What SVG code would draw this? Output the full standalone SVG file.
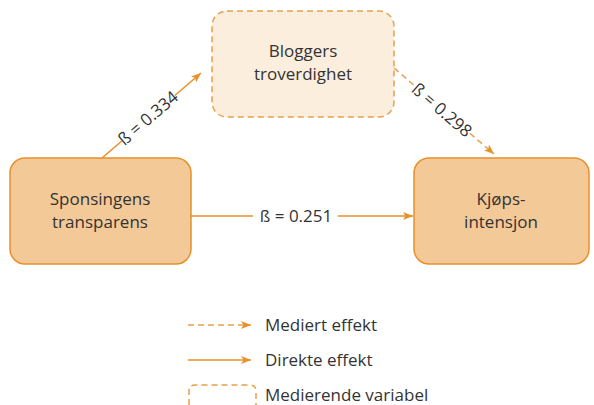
<svg xmlns="http://www.w3.org/2000/svg" width="594" height="405" viewBox="0 0 594 405">
<defs>
<marker id="ah" viewBox="0 0 10 8" refX="10" refY="4" markerWidth="10" markerHeight="8" markerUnits="userSpaceOnUse" orient="auto">
<path d="M0,0 L10,4 L0,8 L2.5,4 z" fill="#e8902a"/>
</marker>
<style>
.box{fill:#f3c998;stroke:#e8902a;stroke-width:1.5}
.med{fill:#fbeedd;stroke:#e8a04a;stroke-width:1.5;stroke-dasharray:6 4}
.t{font-family:"Open Sans","Liberation Sans",sans-serif;font-size:17px;fill:#333;text-anchor:middle}
.lt{font-family:"Open Sans","Liberation Sans",sans-serif;font-size:17px;fill:#333}
.c{stroke:#e8902a;stroke-width:1.5;fill:none}
.d{stroke:#e8a04a;stroke-width:1.5;fill:none;stroke-dasharray:6 4}
</style>
</defs>
<rect width="594" height="405" fill="#fff"/>
<g id="connectors">
<line class="c" x1="102" y1="158" x2="201" y2="73" marker-end="url(#ah)"/>
<line class="d" x1="394" y1="68" x2="494" y2="154" marker-end="url(#ah)"/>
<line class="c" x1="191" y1="216" x2="413" y2="216" marker-end="url(#ah)"/>
<rect x="113" y="107" width="70" height="22" fill="#fff" transform="rotate(-40.6 148 118)"/>
<text class="t" x="148" y="124" transform="rotate(-40.6 148 118)">ß = 0.334</text>
<rect x="407" y="99" width="70" height="22" fill="#fff" transform="rotate(40.7 442 110)"/>
<text class="t" x="442" y="116" transform="rotate(40.7 442 110)">ß = 0.298</text>
<rect x="253" y="204" width="85" height="24" fill="#fff"/>
<text class="t" x="296" y="222">ß = 0.251</text>
</g>
<g id="sponsingens">
<rect class="box" x="10" y="158" width="181" height="106" rx="15"/>
<text class="t" x="100" y="205">Sponsingens</text>
<text class="t" x="100" y="228">transparens</text>
</g>
<g id="bloggers">
<rect class="med" x="212" y="11" width="182" height="106" rx="15"/>
<text class="t" x="303" y="57">Bloggers</text>
<text class="t" x="303" y="80">troverdighet</text>
</g>
<g id="kjops">
<rect class="box" x="414" y="158" width="175" height="106" rx="15"/>
<text class="t" x="501" y="205">Kjøps-</text>
<text class="t" x="501" y="228">intensjon</text>
</g>
<g id="legend">
<line class="d" x1="188" y1="325" x2="251" y2="325" marker-end="url(#ah)"/>
<text class="lt" x="265" y="331">Mediert effekt</text>
<line class="c" x1="188" y1="360" x2="251" y2="360" marker-end="url(#ah)"/>
<text class="lt" x="265" y="366">Direkte effekt</text>
<path class="d" d="M189,405 V391 Q189,385 195,385 H250 Q256,385 256,391 V405"/>
<text class="lt" x="265" y="401">Medierende variabel</text>
</g>
</svg>
